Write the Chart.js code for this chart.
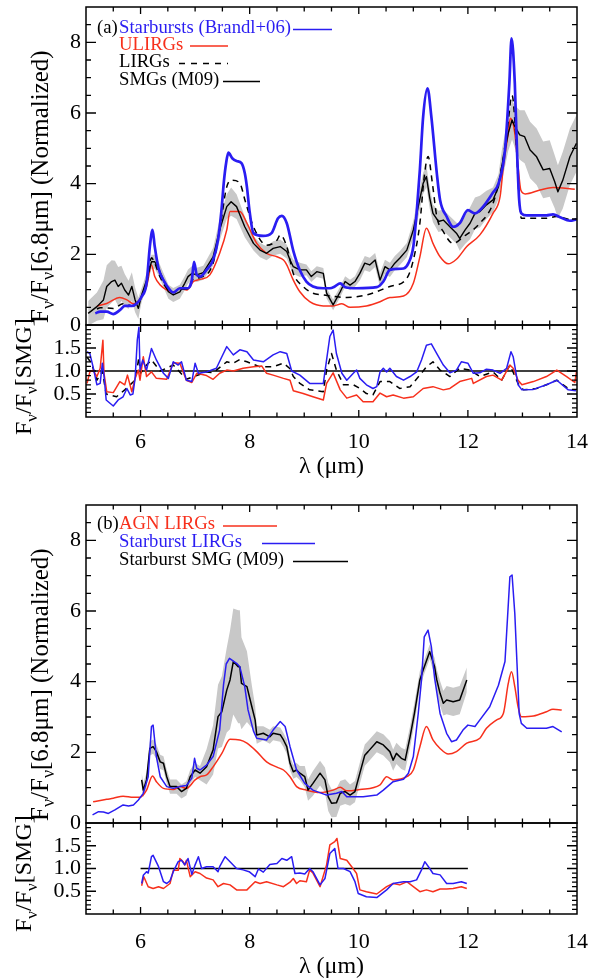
<!DOCTYPE html>
<html>
<head>
<meta charset="utf-8">
<script src="https://cdn.jsdelivr.net/npm/chart.js@4.4.1/dist/chart.umd.min.js"></script>
<style>
html, body { margin: 0; padding: 0; background: #fff; width: 598px; height: 980px; overflow: hidden; position: relative; }
canvas { position: absolute; left: 0; }
</style>
</head>
<body>
<canvas id="aMain" width="640" height="365" style="top:-20px"></canvas>
<canvas id="aRatio" width="640" height="185" style="top:305px"></canvas>
<canvas id="bMain" width="640" height="365" style="top:478px"></canvas>
<canvas id="bRatio" width="640" height="187" style="top:803px"></canvas>
<script>
// ---------- axis ticks ----------
const xTicks = [6, 8, 10, 12, 14];
const yTicksMain = [0, 2, 4, 6, 8];
const yTicksRatio = [0.5, 1.0, 1.5];
const yLabelsRatio = ['0.5', '1.0', '1.5'];

// ---------- (a) spectra, normalised at 6.8 micron ----------
const lamSbA = [5.17,5.26,5.38,5.5,5.62,5.71,5.84,5.93,6.02,6.11,6.17,6.22,6.26,6.33,6.42,6.54,6.6,6.72,6.85,6.94,6.98,7.03,7.09,7.21,7.33,7.42,7.48,7.53,7.57,7.61,7.68,7.76,7.85,7.91,7.95,8.0,8.07,8.25,8.4,8.52,8.59,8.68,8.8,8.92,9.04,9.16,9.35,9.47,9.56,9.66,9.75,9.96,10.33,10.45,10.57,10.82,10.91,11.0,11.06,11.12,11.18,11.26,11.33,11.43,11.49,11.61,11.73,11.85,12.0,12.13,12.28,12.46,12.56,12.68,12.76,12.8,12.86,12.9,12.94,12.98,13.08,13.44,13.56,13.69,13.87,13.99];
const sbA = [0.33,0.38,0.38,0.31,0.42,0.54,0.54,0.61,0.8,1.18,2.22,2.69,2.22,1.6,1.27,0.99,0.92,1.04,1.04,1.27,1.79,1.42,1.37,1.56,1.84,2.41,3.2,4.1,4.6,4.88,4.72,4.64,4.58,4.3,3.9,3.2,2.6,2.52,2.6,3.02,3.09,2.88,2.1,1.55,1.23,1.09,1.04,1.04,1.09,1.18,1.07,1.04,1.07,1.23,1.56,1.6,1.75,2.22,3.16,4.4,5.9,6.7,5.9,4.3,3.54,3.07,2.78,2.88,3.25,3.16,3.35,3.75,4.0,4.95,6.84,8.11,6.84,4.95,3.54,3.16,3.1,3.1,3.13,3.05,2.95,2.99];

const lamUlA = [5.2,5.38,5.62,5.75,5.87,6.0,6.11,6.2,6.26,6.36,6.48,6.6,6.72,6.85,6.97,7.09,7.27,7.45,7.58,7.64,7.82,7.95,8.13,8.31,8.5,8.62,8.68,8.8,8.92,9.1,9.35,9.53,9.69,9.84,10.14,10.39,10.57,10.82,11.0,11.12,11.24,11.36,11.49,11.64,11.79,11.98,12.22,12.46,12.59,12.65,12.74,12.78,12.86,12.92,12.97,13.05,13.32,13.56,13.96];
const ulA = [0.54,0.61,0.78,0.71,0.6,0.75,1.09,1.7,1.37,1.13,0.99,0.92,1.04,0.99,1.23,1.29,1.42,2.03,2.69,3.21,3.21,2.88,2.31,2.03,1.93,1.84,1.7,1.27,0.94,0.66,0.54,0.54,0.6,0.5,0.54,0.66,0.78,0.82,1.18,1.93,2.74,2.31,1.93,1.73,1.86,2.22,2.55,3.16,3.63,4.48,5.43,5.85,5.43,4.48,3.82,3.71,3.82,3.89,3.84];

const lamLiA = [5.2,5.26,5.5,5.68,5.87,6.0,6.11,6.2,6.26,6.36,6.5,6.6,6.72,6.85,6.97,7.1,7.33,7.45,7.58,7.68,7.82,7.92,8.07,8.31,8.5,8.56,8.68,8.8,8.98,9.16,9.35,9.78,10.14,10.57,10.88,11.0,11.12,11.2,11.27,11.35,11.43,11.55,11.73,11.92,12.22,12.46,12.6,12.72,12.81,12.88,12.93,12.98,13.44,13.62,13.92];
const liA = [0.45,0.49,0.47,0.6,0.54,0.75,1.15,1.9,1.75,1.35,1.0,0.92,1.02,1.02,1.3,1.35,1.75,2.69,3.91,4.1,4.01,3.5,2.78,2.26,2.4,2.55,2.22,1.46,1.09,0.9,0.85,0.78,0.85,1.09,1.32,1.84,2.88,4.2,4.77,4.0,3.07,2.64,2.31,2.5,2.88,3.44,4.3,5.5,6.5,5.3,3.8,3.02,3.02,3.07,2.95];

const lamSmgA = [5.04,5.2,5.32,5.38,5.47,5.53,5.59,5.65,5.71,5.78,5.84,5.9,5.96,6.02,6.11,6.2,6.26,6.33,6.42,6.51,6.6,6.72,6.81,6.87,6.94,7.03,7.15,7.33,7.45,7.58,7.66,7.76,7.91,8.07,8.19,8.31,8.43,8.56,8.68,8.74,8.8,8.92,9.04,9.13,9.23,9.35,9.41,9.53,9.66,9.75,9.84,9.93,10.02,10.11,10.2,10.3,10.39,10.48,10.57,10.66,10.75,10.88,11.0,11.09,11.18,11.24,11.3,11.36,11.46,11.55,11.67,11.79,11.85,11.95,12.04,12.13,12.22,12.34,12.46,12.56,12.62,12.74,12.81,12.86,12.95,13.04,13.14,13.26,13.38,13.5,13.59,13.65,13.74,13.87,13.99];
const smgA = [0.33,0.52,0.71,1.09,1.23,1.27,1.09,1.18,0.99,0.85,1.09,0.71,0.47,0.85,1.27,1.79,1.79,1.6,1.27,0.94,0.85,0.94,1.18,1.37,1.46,1.42,1.48,1.93,2.69,3.35,3.49,3.35,2.78,2.31,2.12,2.03,2.17,2.22,2.08,1.84,1.65,1.56,1.56,1.37,1.51,1.46,0.9,0.57,0.94,1.23,1.13,1.23,1.46,1.75,1.7,1.84,1.27,1.65,1.56,1.75,1.89,2.12,2.69,3.35,4.01,4.2,3.6,3.16,2.93,2.97,2.78,2.6,2.45,2.69,2.88,3.16,3.21,3.4,3.54,3.91,4.48,5.43,5.8,5.62,5.38,5.33,4.95,4.76,4.39,4.43,4.06,3.77,4.1,4.76,5.14];
const errSmgA = [0.35,0.4,0.55,0.6,0.6,0.55,0.55,0.5,0.45,0.4,0.4,0.35,0.3,0.2,0.2,0.2,0.2,0.2,0.2,0.2,0.2,0.2,0.2,0.2,0.2,0.2,0.2,0.25,0.3,0.35,0.4,0.35,0.3,0.2,0.2,0.2,0.2,0.2,0.2,0.2,0.2,0.2,0.15,0.15,0.15,0.15,0.15,0.15,0.15,0.15,0.15,0.15,0.2,0.2,0.2,0.2,0.2,0.2,0.2,0.2,0.2,0.2,0.25,0.3,0.3,0.3,0.3,0.25,0.3,0.3,0.3,0.3,0.35,0.4,0.45,0.45,0.45,0.4,0.35,0.35,0.45,0.5,0.55,0.6,0.7,0.75,0.8,0.8,0.8,0.8,0.75,0.75,0.8,0.8,0.8];

// ---------- (a) ratios to the SMG composite ----------
const lamRsbA = [5.02,5.07,5.13,5.2,5.26,5.3,5.33,5.37,5.44,5.5,5.59,5.68,5.75,5.81,5.86,5.9,5.94,5.97,5.99,6.04,6.11,6.2,6.29,6.42,6.51,6.6,6.69,6.75,6.84,6.94,7.0,7.06,7.21,7.39,7.49,7.58,7.7,7.82,7.95,8.07,8.25,8.43,8.56,8.68,8.77,8.92,9.1,9.35,9.41,9.47,9.53,9.59,9.69,9.78,9.9,9.96,10.02,10.14,10.26,10.33,10.39,10.45,10.51,10.57,10.69,10.82,10.94,11.06,11.15,11.24,11.33,11.43,11.55,11.67,11.79,11.88,12.0,12.1,12.22,12.34,12.46,12.59,12.71,12.79,12.83,12.92,12.99,13.2,13.44,13.63,13.84,13.98];
const rsbA = [1.42,1.38,1.09,0.7,0.73,1.17,0.9,0.37,0.3,0.24,0.37,0.44,0.62,0.48,0.5,0.84,1.67,1.95,1.02,1.24,1.02,1.49,1.24,0.95,0.84,1.2,1.13,1.2,0.8,0.77,1.17,0.95,0.98,1.06,1.31,1.53,1.35,1.46,1.42,1.24,1.2,1.35,1.42,1.38,1.0,0.91,0.73,0.73,1.24,1.75,1.89,1.38,0.95,0.8,0.95,1.02,0.84,0.7,0.62,0.66,0.98,1.06,0.98,1.06,0.88,0.8,0.88,0.98,1.24,1.56,1.59,1.38,1.13,0.96,1.02,1.2,1.17,0.95,0.96,1.04,1.02,0.95,1.06,1.42,1.31,0.7,0.59,0.6,0.7,0.8,0.59,0.57];

const lamRulA = [5.02,5.07,5.13,5.2,5.26,5.31,5.33,5.38,5.5,5.62,5.71,5.76,5.84,5.9,5.96,5.99,6.05,6.11,6.2,6.29,6.48,6.6,6.72,6.84,6.94,7.03,7.21,7.33,7.45,7.58,7.7,7.88,8.07,8.22,8.31,8.43,8.62,8.74,8.8,8.98,9.16,9.35,9.41,9.53,9.66,9.78,9.96,10.08,10.26,10.39,10.51,10.63,10.82,11.0,11.18,11.36,11.55,11.67,11.85,12.07,12.1,12.34,12.46,12.62,12.77,12.83,12.92,12.99,13.2,13.44,13.63,13.81,13.96,13.99];
const rulA = [0.73,0.98,1.02,0.88,1.06,1.67,0.95,0.55,0.53,0.77,0.7,0.91,0.55,0.84,1.02,0.8,1.31,0.88,0.98,0.84,0.82,1.18,1.17,0.8,0.75,0.95,0.9,0.82,0.95,1.02,1.0,1.06,1.09,1.11,0.95,0.91,0.84,0.8,0.57,0.51,0.44,0.37,0.73,0.96,0.59,0.41,0.48,0.33,0.33,0.52,0.44,0.48,0.41,0.44,0.62,0.66,0.59,0.62,0.77,0.84,0.73,0.88,0.91,0.8,1.13,1.06,0.8,0.7,0.77,0.88,1.02,0.88,0.75,0.98];

const lamRliA = [5.02,5.1,5.2,5.3,5.37,5.56,5.71,5.9,5.97,6.0,6.11,6.2,6.36,6.6,6.84,7.21,7.33,7.58,7.7,7.82,7.95,8.19,8.43,8.62,8.74,8.8,8.92,9.1,9.35,9.41,9.5,9.59,9.72,9.9,10.02,10.14,10.26,10.39,10.57,10.75,10.94,11.12,11.24,11.36,11.49,11.67,11.85,12.04,12.22,12.46,12.62,12.77,12.92,13.02,13.26,13.44,13.63,13.87,13.98];
const rliA = [1.3,1.17,0.8,1.0,0.5,0.44,0.59,0.8,1.3,0.95,1.13,1.24,1.0,1.13,0.82,0.98,0.96,1.2,1.17,1.25,1.2,1.09,1.09,1.17,1.05,0.88,0.73,0.59,0.55,1.02,1.38,1.02,0.7,0.7,0.62,0.51,0.48,0.77,0.77,0.62,0.66,0.91,1.09,1.2,1.02,0.88,1.06,1.02,0.88,0.98,0.8,1.13,0.73,0.59,0.62,0.7,0.8,0.59,0.59];

const lamUnityA = [5, 14];
const unityA = [1, 1];

// ---------- (b) spectra ----------
const lamAgnB = [5.13,5.38,5.5,5.68,5.87,5.99,6.11,6.22,6.29,6.42,6.6,6.72,6.84,7.0,7.09,7.21,7.33,7.49,7.64,7.82,7.95,8.13,8.31,8.5,8.62,8.74,8.86,9.04,9.29,9.53,9.66,9.78,10.02,10.39,10.51,10.63,10.88,11.0,11.12,11.24,11.36,11.49,11.64,11.79,11.98,12.22,12.34,12.53,12.65,12.74,12.8,12.86,12.92,12.98,13.2,13.44,13.56,13.72];
const agnB = [0.6,0.67,0.7,0.76,0.73,0.73,0.93,1.33,1.17,0.98,0.95,1.03,0.98,1.22,1.31,1.36,1.59,1.97,2.37,2.35,2.26,2.02,1.73,1.58,1.5,1.31,1.03,0.93,0.86,0.93,1.01,0.91,0.95,1.08,1.31,1.22,1.31,1.5,2.16,2.73,2.35,2.11,1.95,2.02,2.26,2.4,2.68,2.92,3.1,3.95,4.28,3.86,3.29,3.01,3.03,3.15,3.22,3.2];

const lamSbB = [5.12,5.23,5.32,5.41,5.53,5.68,5.78,5.87,5.96,6.05,6.14,6.2,6.23,6.29,6.36,6.48,6.6,6.72,6.84,6.94,6.99,7.03,7.09,7.21,7.33,7.45,7.52,7.57,7.63,7.76,7.82,7.91,7.97,8.07,8.13,8.31,8.43,8.56,8.65,8.74,8.86,9.01,9.16,9.41,9.59,9.69,9.78,10.08,10.33,10.45,10.63,10.82,10.91,11.0,11.09,11.15,11.2,11.27,11.33,11.39,11.49,11.61,11.7,11.79,11.91,12.0,12.13,12.22,12.4,12.56,12.68,12.77,12.81,12.86,12.9,12.94,12.98,13.08,13.44,13.56,13.72];
const sbB = [0.23,0.32,0.31,0.27,0.37,0.51,0.48,0.51,0.65,0.84,1.31,2.73,2.77,1.88,1.31,1.03,0.98,1.03,1.06,1.27,1.83,1.55,1.5,1.64,1.88,2.63,3.9,4.5,4.66,4.52,4.42,3.86,3.2,2.6,2.4,2.35,2.63,2.87,2.73,2.16,1.5,1.12,0.93,0.79,0.84,0.89,0.74,0.74,0.79,0.93,1.17,1.24,1.41,1.88,3.1,4.05,5.27,5.46,4.99,4.1,3.1,2.54,2.3,2.35,2.63,2.77,2.73,2.92,3.29,3.9,4.57,6.97,7.02,5.93,4.52,3.1,2.82,2.68,2.68,2.73,2.58];

const lamSmgB = [6.02,6.05,6.11,6.17,6.23,6.29,6.36,6.42,6.48,6.54,6.66,6.75,6.84,6.91,7.0,7.09,7.21,7.33,7.42,7.49,7.58,7.64,7.7,7.79,7.82,7.85,7.95,8.04,8.1,8.13,8.25,8.37,8.43,8.56,8.62,8.68,8.74,8.8,8.86,8.92,9.01,9.07,9.16,9.29,9.38,9.44,9.5,9.59,9.66,9.75,9.84,9.93,10.02,10.11,10.17,10.33,10.45,10.57,10.63,10.69,10.78,10.85,10.94,11.02,11.12,11.18,11.3,11.39,11.43,11.49,11.55,11.61,11.73,11.85,11.98];
const smgB = [1.22,0.93,1.22,2.11,2.16,2.02,1.73,1.69,1.31,1.03,1.03,0.89,0.98,1.31,1.5,1.41,1.59,2.07,3.01,3.15,3.76,4.05,4.57,4.42,4.42,3.95,3.86,3.29,2.92,2.49,2.54,2.44,2.54,2.5,2.35,2.16,1.69,1.45,1.5,1.41,1.31,0.93,1.12,1.41,1.22,0.74,0.56,0.57,0.84,0.89,0.79,0.89,1.41,1.92,2.02,2.3,2.21,2.02,1.78,1.97,1.83,1.78,2.44,3.1,4.05,4.33,4.85,4.42,4.05,3.67,3.39,3.48,3.43,3.48,4.05];
const errSmgB = [0.2,0.2,0.2,0.2,0.2,0.2,0.2,0.2,0.2,0.2,0.2,0.2,0.2,0.2,0.2,0.2,0.5,0.7,0.9,1.0,1.2,1.4,1.5,1.6,1.6,1.3,1.0,0.6,0.4,0.25,0.2,0.2,0.2,0.2,0.2,0.2,0.2,0.2,0.2,0.2,0.3,0.3,0.35,0.35,0.35,0.4,0.4,0.4,0.35,0.35,0.3,0.3,0.3,0.3,0.3,0.3,0.3,0.3,0.3,0.3,0.3,0.3,0.3,0.3,0.25,0.2,0.2,0.25,0.3,0.35,0.35,0.4,0.4,0.4,0.35];

// ---------- (b) ratios ----------
const lamRsbB = [6.02,6.05,6.11,6.14,6.2,6.23,6.33,6.42,6.48,6.54,6.6,6.69,6.75,6.81,6.87,6.94,7.0,7.06,7.12,7.21,7.33,7.42,7.45,7.55,7.64,7.76,7.88,7.99,8.1,8.16,8.25,8.37,8.5,8.59,8.68,8.77,8.83,8.92,9.01,9.1,9.16,9.29,9.38,9.47,9.56,9.62,9.72,9.84,9.93,9.99,10.14,10.33,10.51,10.63,10.82,10.94,11.06,11.15,11.21,11.3,11.36,11.49,11.61,11.73,11.88,11.98];
const rsbB = [0.67,0.85,0.93,0.9,1.26,1.29,1.04,0.71,0.67,0.73,0.93,1.15,1.18,1.08,1.22,0.87,1.08,1.26,1.0,1.04,1.04,0.93,1.04,1.26,1.15,1.0,0.97,0.93,0.82,0.99,0.92,1.09,1.11,1.22,1.18,1.26,0.89,0.9,0.88,1.0,0.93,0.64,0.78,1.33,1.44,1.0,1.0,0.93,0.71,0.45,0.38,0.36,0.53,0.67,0.71,0.71,0.75,0.97,1.15,1.0,0.89,0.86,0.67,0.67,0.71,0.67];

const lamRagnB = [6.02,6.06,6.14,6.23,6.33,6.42,6.54,6.6,6.69,6.72,6.78,6.81,6.84,6.91,7.0,7.09,7.21,7.33,7.42,7.52,7.64,7.76,7.95,8.1,8.19,8.31,8.5,8.62,8.74,8.8,8.86,8.92,9.04,9.1,9.16,9.29,9.41,9.47,9.56,9.6,9.66,9.78,9.87,9.96,10.02,10.14,10.33,10.51,10.63,10.75,10.88,11.0,11.12,11.24,11.36,11.49,11.61,11.73,11.88,11.98];
const ragnB = [0.62,0.82,0.6,0.56,0.6,0.56,0.67,0.96,0.96,1.22,1.15,1.08,1.18,0.82,0.93,0.89,0.79,0.75,0.6,0.67,0.64,0.53,0.53,0.71,0.67,0.71,0.64,0.6,0.7,0.78,0.67,0.73,0.71,0.97,0.9,0.6,1.08,1.52,1.59,1.66,1.22,1.18,1.04,0.89,0.53,0.49,0.44,0.6,0.67,0.64,0.71,0.6,0.49,0.53,0.49,0.55,0.55,0.56,0.6,0.56];

const lamUnityB = [6, 12];
const unityB = [1, 1];

// ---------- styling ----------
const SERIF = '"Liberation Serif", "Times New Roman", serif';
const BLUE = '#2a1df2';
const RED = '#f7301c';
const GREY = '#c8c8c8';
const PLOT_LEFT = 86;    // px, left edge of every plot box
const CANVAS_W = 640;
const PLOT_RIGHT = 577;  // px, right edge of every plot box

Chart.defaults.font.family = SERIF;
Chart.defaults.color = '#000';

const xy = (lam, v) => lam.map((l, i) => ({ x: l, y: v[i] }));
const shifted = (lam, v, e, s) => lam.map((l, i) => ({ x: l, y: v[i] + s * e[i] }));

// box with inward ticks on all four sides
const framePlugin = {
  id: 'frame',
  afterDatasetsDraw(chart, args, o) {
    const { ctx, chartArea: a } = chart;
    const xs = chart.scales.x, ys = chart.scales.y;
    const isMul = (v, m) => Math.abs(v / m - Math.round(v / m)) < 1e-6;
    ctx.save();
    ctx.strokeStyle = '#000';
    ctx.lineWidth = 1.3;
    ctx.beginPath();
    for (let k = Math.ceil(xs.min / o.xMinor + 1e-6); k * o.xMinor < xs.max - 1e-6; k++) {
      const v = k * o.xMinor;
      const p = xs.getPixelForValue(v);
      const L = isMul(v, o.xMajor) ? 7 : 4.5;
      ctx.moveTo(p, a.bottom); ctx.lineTo(p, a.bottom - L);
      ctx.moveTo(p, a.top); ctx.lineTo(p, a.top + L);
    }
    for (let k = Math.ceil(ys.min / o.yMinor + 1e-6); k * o.yMinor < ys.max - 1e-6; k++) {
      const v = k * o.yMinor;
      const p = ys.getPixelForValue(v);
      const L = isMul(v, o.yMajor) ? 10 : 5;
      ctx.moveTo(a.left, p); ctx.lineTo(a.left + L, p);
      ctx.moveTo(a.right, p); ctx.lineTo(a.right - L, p);
    }
    ctx.stroke();
    ctx.lineWidth = 1.5;
    ctx.strokeRect(a.left, a.top, a.right - a.left, a.bottom - a.top);
    ctx.restore();
  }
};

// rotated axis caption with subscripts
function richVertical(ctx, parts, x, y, size) {
  ctx.save();
  ctx.translate(x, y);
  ctx.rotate(-Math.PI / 2);
  ctx.fillStyle = '#000';
  ctx.textBaseline = 'alphabetic';
  ctx.textAlign = 'left';
  let cx = 0;
  for (const p of parts) {
    const fs = p.sub ? Math.round(size * 0.7) : size;
    ctx.font = fs + 'px ' + SERIF;
    ctx.fillText(p.t, cx, p.sub ? size * 0.24 : 0);
    cx += ctx.measureText(p.t).width;
  }
  ctx.restore();
}

const mainCaption = [{ t: 'F' }, { t: 'ν', sub: 1 }, { t: '/F' }, { t: 'ν', sub: 1 }, { t: '[6.8μm] (Normalized)' }];
const ratioCaption = [{ t: 'F' }, { t: 'ν', sub: 1 }, { t: '/F' }, { t: 'ν', sub: 1 }, { t: '[SMG]' }];

// legend rows: label text followed by a line sample
function drawKey(ctx, top, tag, rows) {
  ctx.save();
  ctx.font = '18.7px ' + SERIF;
  ctx.textBaseline = 'alphabetic';
  ctx.fillStyle = '#000';
  ctx.fillText(tag.text, tag.x, tag.y - top);
  for (const r of rows) {
    ctx.fillStyle = r.color;
    ctx.fillText(r.text, 119, r.y - top);
    ctx.strokeStyle = r.color;
    ctx.lineWidth = 1.4;
    ctx.setLineDash(r.dash || []);
    ctx.beginPath();
    ctx.moveTo(r.x0, r.ly - top);
    ctx.lineTo(r.x1, r.ly - top);
    ctx.stroke();
  }
  ctx.restore();
}

function yAxis(min, max, ticks, labels) {
  return {
    type: 'linear', min, max, position: 'left',
    afterBuildTicks: s => { s.ticks = ticks.map(v => ({ value: v })); },
    afterFit: s => { s.width = PLOT_LEFT; },
    grid: { display: false, drawTicks: false },
    border: { display: false },
    ticks: {
      color: '#000', padding: 5, font: { family: SERIF, size: 22 },
      callback: (v, i) => labels[i]
    }
  };
}

function xAxisHidden() {
  return { type: 'linear', min: 5, max: 14, display: false };
}

function xAxisShown(height, pad) {
  return {
    type: 'linear', min: 5, max: 14, position: 'bottom',
    afterBuildTicks: s => { s.ticks = xTicks.map(v => ({ value: v })); },
    afterFit: s => { s.height = height; },
    grid: { display: false, drawTicks: false },
    border: { display: false },
    ticks: { color: '#000', padding: pad, maxRotation: 0, autoSkip: false, font: { family: SERIF, size: 22 } },
    title: { display: true, text: 'λ (μm)', color: '#000', font: { family: SERIF, size: 24, lineHeight: 1.2 }, padding: { top: 0, bottom: 9 } }
  };
}

function baseOptions(padding, scales, frame) {
  return {
    responsive: false,
    animation: false,
    devicePixelRatio: 1,
    layout: { padding },
    elements: { point: { radius: 0 }, line: { borderJoinStyle: 'round' } },
    plugins: { legend: { display: false }, tooltip: { enabled: false }, frame },
    scales
  };
}

const line = (data, color, width, extra) => Object.assign({
  data, borderColor: color, borderWidth: width, fill: false, pointRadius: 0, tension: 0
}, extra || {});

const bandSets = (lam, v, e) => [
  { data: shifted(lam, v, e, 1), fill: '+1', backgroundColor: GREY, borderWidth: 0, pointRadius: 0, order: 9 },
  { data: shifted(lam, v, e, -1), fill: false, borderWidth: 0, pointRadius: 0, order: 9 }
];

const smooth = { cubicInterpolationMode: 'monotone' };
const frameMain = { xMinor: 0.5, xMajor: 2, yMinor: 0.5, yMajor: 2 };
const frameRatio = { xMinor: 0.5, xMajor: 2, yMinor: 0.1, yMajor: 0.5 };

// ---------- (a) upper panel ----------
const topAMain = -20;
new Chart(document.getElementById('aMain'), {
  type: 'line',
  data: {
    datasets: [
      ...bandSets(lamSmgA, smgA, errSmgA),
      line(xy(lamUlA, ulA), RED, 1.5, Object.assign({ order: 4 }, smooth)),
      line(xy(lamLiA, liA), '#000', 1.5, Object.assign({ order: 3, borderDash: [6, 5] }, smooth)),
      line(xy(lamSmgA, smgA), '#000', 1.4, { order: 2 }),
      line(xy(lamSbA, sbA), BLUE, 2.7, Object.assign({ order: 1 }, smooth))
    ]
  },
  options: baseOptions({ left: 0, right: CANVAS_W - PLOT_RIGHT, top: 27, bottom: 20 },
    { x: xAxisHidden(), y: yAxis(0, 9, yTicksMain, yTicksMain.map(String)) }, frameMain),
  plugins: [framePlugin, {
    id: 'annotA',
    afterDraw(chart) {
      const ctx = chart.ctx;
      richVertical(ctx, mainCaption, 48, 323 - topAMain, 25);
      drawKey(ctx, topAMain, { text: '(a)', x: 97, y: 32.5 }, [
        { text: 'Starbursts (Brandl+06)', color: BLUE, y: 32.5, x0: 293, x1: 332, ly: 29.5 },
        { text: 'ULIRGs', color: RED, y: 50, x0: 190, x1: 228, ly: 46 },
        { text: 'LIRGs', color: '#000', y: 67, x0: 179, x1: 228, ly: 63.5, dash: [6, 6] },
        { text: 'SMGs (M09)', color: '#000', y: 85, x0: 223, x1: 260, ly: 81.5 }
      ]);
    }
  }]
});

// ---------- (a) ratio panel ----------
const topARatio = 305;
new Chart(document.getElementById('aRatio'), {
  type: 'line',
  data: {
    datasets: [
      line(xy(lamUnityA, unityA), '#000', 1.5, { order: 5 }),
      line(xy(lamRliA, rliA), '#000', 1.5, { order: 3, borderDash: [6, 5] }),
      line(xy(lamRulA, rulA), RED, 1.5, { order: 2 }),
      line(xy(lamRsbA, rsbA), BLUE, 1.5, { order: 1 })
    ]
  },
  options: baseOptions({ left: 0, right: CANVAS_W - PLOT_RIGHT, top: 20, bottom: 0 },
    { x: xAxisShown(73, 12), y: yAxis(0, 2, yTicksRatio, yLabelsRatio) }, frameRatio),
  plugins: [framePlugin, {
    id: 'captionAR',
    afterDraw(chart) { richVertical(chart.ctx, ratioCaption, 31, 435 - topARatio, 24); }
  }]
});

// ---------- (b) upper panel ----------
const topBMain = 478;
new Chart(document.getElementById('bMain'), {
  type: 'line',
  data: {
    datasets: [
      ...bandSets(lamSmgB, smgB, errSmgB),
      line(xy(lamAgnB, agnB), RED, 1.5, Object.assign({ order: 3 }, smooth)),
      line(xy(lamSmgB, smgB), '#000', 1.5, { order: 2 }),
      line(xy(lamSbB, sbB), BLUE, 1.5, { order: 1 })
    ]
  },
  options: baseOptions({ left: 0, right: CANVAS_W - PLOT_RIGHT, top: 27, bottom: 20 },
    { x: xAxisHidden(), y: yAxis(0, 9, yTicksMain, yTicksMain.map(String)) }, frameMain),
  plugins: [framePlugin, {
    id: 'annotB',
    afterDraw(chart) {
      const ctx = chart.ctx;
      richVertical(ctx, mainCaption, 48, 821 - topBMain, 25);
      drawKey(ctx, topBMain, { text: '(b)', x: 97, y: 529 }, [
        { text: 'AGN LIRGs', color: RED, y: 529, x0: 223, x1: 277, ly: 526 },
        { text: 'Starburst LIRGs', color: BLUE, y: 547, x0: 262, x1: 315, ly: 543.5 },
        { text: 'Starburst SMG (M09)', color: '#000', y: 565, x0: 293, x1: 348, ly: 561.5 }
      ]);
    }
  }]
});

// ---------- (b) ratio panel ----------
const topBRatio = 803;
new Chart(document.getElementById('bRatio'), {
  type: 'line',
  data: {
    datasets: [
      line(xy(lamUnityB, unityB), '#000', 1.5, { order: 5 }),
      line(xy(lamRagnB, ragnB), RED, 1.5, { order: 2 }),
      line(xy(lamRsbB, rsbB), BLUE, 1.5, { order: 1 })
    ]
  },
  options: baseOptions({ left: 0, right: CANVAS_W - PLOT_RIGHT, top: 20, bottom: 0 },
    { x: xAxisShown(76, 15), y: yAxis(0, 2, yTicksRatio, yLabelsRatio) }, frameRatio),
  plugins: [framePlugin, {
    id: 'captionBR',
    afterDraw(chart) { richVertical(chart.ctx, ratioCaption, 31, 932 - topBRatio, 24); }
  }]
});
</script>
</body>
</html>
